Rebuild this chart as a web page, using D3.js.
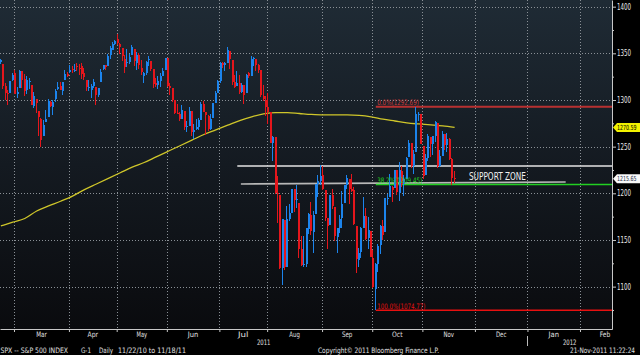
<!DOCTYPE html>
<html><head><meta charset="utf-8">
<script src="https://cdn.jsdelivr.net/npm/d3@7"></script>
<style>
html,body{margin:0;padding:0;background:#000;}
svg{display:block;}
text{font-family:"Liberation Sans Narrow","DejaVu Sans Condensed","Liberation Sans",Arial,sans-serif;}
</style></head><body>
<svg id="chart" width="640" height="355"></svg>
<script>
// ---------- DATA ----------
const firstDate = "2011-02-18";
const lastDate = "2011-11-18";
const marketHolidays = ["2011-02-21","2011-04-22","2011-05-30","2011-07-04","2011-09-05"];

const open = [
 1340.4,1338.9,1315.4,1307.1,1307.3,1321.6,
 1328.6,1305.9,1312.4,1330.7,1322.7,1311.0,1319.9,1315.7,1293.4,1301.2,1288.5,1279.5,1261.6,1276.7,1281.7,1298.3,1292.2,1300.6,1311.8,1315.5,1309.4,1321.9,1327.4,
 1329.5,1333.6,1332.0,1335.9,1334.8,1336.2,1329.0,1321.9,1314.0,1311.1,1314.5,1313.4,1305.7,1319.1,1333.2,1337.1,1336.8,1348.4,1353.9,1360.1,
 1365.2,1359.8,1355.9,1344.2,1340.2,1340.2,1348.3,1354.5,1339.4,1348.7,1334.8,1326.1,1328.5,1342.4,1342.0,1333.1,1317.7,1316.4,1320.6,1325.7,1331.7,
 1345.2,1314.6,1312.9,1300.3,1286.3,1284.6,1279.6,1288.3,1271.3,1272.2,1287.9,1265.5,1268.6,1271.5,1278.4,1295.5,1286.6,1283.0,1268.4,1280.2,1296.8,1307.6,
 1320.6,1339.6,1337.6,1339.6,1352.4,1343.3,1319.6,1314.5,1317.7,1308.9,1315.9,1307.1,1328.7,1325.7,1343.8,1344.3,1337.4,1331.9,1304.8,1300.1,
 1292.6,1286.6,1254.3,1260.2,1200.3,1198.5,1120.2,1171.8,1121.3,1172.9,1178.9,1204.2,1192.9,1189.6,1140.5,1123.6,1124.4,1162.2,1176.7,1158.9,1177.9,1209.8,1213.0,
 1219.1,1203.9,1174.0,1165.9,1198.0,1185.4,1153.5,1162.6,1173.3,1189.4,1209.2,1215.0,1204.5,1203.6,1164.6,1128.8,1136.9,1163.3,1175.4,1151.7,1159.9,
 1131.2,1097.4,1124.0,1144.1,1165.0,1158.2,1194.6,1196.2,1207.0,1205.7,1224.5,1200.8,1223.5,1209.9,1215.4,1238.7,1254.2,1229.2,1244.0,1284.4,1285.0,
 1251.0,1219.6,1238.3,1260.8,1253.2,1261.1,1275.2,1229.6,1240.1,1263.9,1251.7,1257.8,1236.6,1216.2
];
const high = [
 1344.1,1338.9,1317.9,1310.9,1320.6,1329.4,
 1332.1,1314.2,1332.3,1331.1,1327.7,1325.7,1323.2,1315.7,1308.4,1301.2,1288.5,1280.9,1278.9,1288.9,1300.6,1299.4,1300.5,1311.3,1319.2,1319.7,1319.5,1331.7,1329.8,
 1337.9,1336.7,1338.2,1339.4,1338.8,1339.5,1333.8,1321.9,1321.4,1316.8,1322.9,1313.4,1313.0,1332.7,1337.5,1337.6,1349.6,1357.5,1361.7,1364.6,
 1370.6,1360.8,1355.9,1348.0,1354.4,1349.4,1359.4,1354.5,1351.1,1350.5,1343.3,1330.4,1341.8,1346.8,1342.0,1333.1,1323.7,1325.9,1328.5,1334.6,1345.2,
 1345.2,1318.0,1312.9,1300.3,1296.2,1287.0,1294.5,1288.3,1277.0,1292.5,1287.9,1274.1,1279.8,1280.4,1297.6,1298.6,1286.6,1283.9,1284.9,1296.8,1309.2,1321.9,
 1341.0,1340.9,1340.9,1356.5,1352.4,1343.3,1327.2,1331.5,1326.9,1317.7,1315.9,1328.1,1330.4,1347.0,1346.1,1344.3,1338.5,1331.9,1316.3,1304.2,
 1307.4,1286.6,1261.2,1260.2,1218.1,1198.5,1172.9,1171.8,1186.3,1189.0,1204.5,1204.2,1208.5,1189.6,1154.5,1154.0,1162.4,1178.6,1190.7,1181.2,1210.3,1220.1,1230.7,
 1229.3,1203.9,1174.0,1198.6,1204.4,1185.4,1162.5,1176.4,1202.4,1209.1,1220.1,1215.0,1220.4,1206.3,1164.6,1141.7,1164.2,1195.9,1184.7,1175.1,1159.9,
 1139.0,1125.1,1146.1,1165.6,1171.4,1194.9,1199.2,1220.3,1207.5,1224.6,1224.5,1233.1,1229.6,1219.4,1239.0,1256.6,1254.2,1246.3,1292.7,1287.1,1285.0,
 1251.0,1242.5,1263.2,1260.8,1261.7,1277.6,1275.2,1246.2,1267.0,1263.9,1264.3,1259.6,1237.7,1223.5
];
const low = [
 1338.1,1312.3,1299.6,1294.3,1307.3,1320.6,
 1306.1,1302.6,1312.4,1312.6,1303.9,1306.9,1312.3,1294.2,1291.0,1286.4,1261.1,1249.1,1261.6,1276.2,1281.7,1292.7,1284.1,1297.7,1310.2,1310.2,1305.3,1321.9,1325.0,
 1328.5,1329.1,1330.0,1331.1,1326.6,1322.9,1321.1,1309.5,1309.2,1302.4,1313.1,1294.7,1303.0,1319.1,1332.0,1331.7,1336.8,1344.3,1353.6,1358.7,
 1358.6,1349.5,1341.5,1329.2,1335.6,1338.6,1348.3,1336.4,1332.0,1333.4,1327.3,1318.5,1326.6,1336.4,1330.7,1312.9,1313.9,1311.8,1314.4,1325.7,1331.7,
 1313.7,1305.6,1297.9,1284.9,1284.7,1277.4,1279.6,1268.3,1265.6,1272.2,1261.9,1258.1,1267.4,1267.6,1278.4,1286.8,1262.9,1267.2,1267.5,1280.2,1296.8,1307.6,
 1318.2,1334.3,1330.9,1339.6,1333.7,1316.4,1313.3,1314.5,1306.5,1307.5,1295.9,1307.1,1323.7,1325.7,1336.0,1331.1,1329.1,1303.5,1299.2,1282.9,
 1274.7,1254.0,1234.6,1199.5,1168.1,1119.3,1101.5,1118.0,1121.3,1170.7,1178.9,1180.5,1184.4,1131.0,1122.1,1121.1,1120.7,1156.3,1155.1,1135.9,1177.9,1195.8,1209.4,
 1203.9,1170.6,1140.1,1165.9,1183.3,1148.4,1136.1,1157.4,1162.7,1189.4,1204.5,1188.4,1201.3,1166.4,1114.2,1121.4,1131.1,1163.3,1150.4,1139.9,1131.3,
 1098.9,1074.8,1115.7,1134.9,1150.3,1158.2,1187.3,1196.2,1190.6,1205.7,1198.6,1191.5,1206.3,1197.3,1215.4,1238.7,1226.8,1221.1,1244.0,1277.0,1253.2,
 1215.4,1219.6,1234.8,1238.9,1240.8,1255.0,1226.6,1227.7,1240.1,1246.7,1244.3,1235.7,1209.4,1211.4
];
const close = [
 1343.0,1315.4,1307.4,1306.1,1319.9,1327.2,
 1306.3,1308.4,1331.0,1321.2,1310.1,1321.8,1320.0,1295.1,1304.3,1296.4,1281.9,1256.9,1273.7,1279.2,1298.4,1293.8,1297.5,1309.7,1313.8,1310.2,1319.4,1328.3,1325.8,
 1332.4,1332.9,1332.6,1335.5,1333.5,1328.2,1324.5,1314.2,1314.4,1314.5,1319.7,1305.1,1312.6,1330.4,1337.4,1335.3,1347.2,1355.7,1360.5,1363.6,
 1361.2,1356.6,1347.3,1335.1,1340.2,1346.3,1357.2,1342.1,1348.7,1337.8,1329.5,1329.0,1340.7,1343.6,1333.3,1317.4,1316.3,1320.5,1325.7,1331.1,1345.2,
 1314.6,1312.9,1300.2,1286.2,1284.9,1279.6,1289.0,1271.0,1271.8,1287.9,1265.4,1267.6,1271.5,1278.4,1295.5,1287.1,1283.5,1268.5,1280.1,1296.7,1307.4,1320.6,
 1339.7,1337.9,1339.2,1353.2,1343.8,1319.5,1313.6,1317.7,1308.9,1316.1,1305.4,1326.7,1325.8,1343.8,1345.0,1337.4,1331.9,1304.9,1300.7,1292.3,
 1286.9,1254.1,1260.3,1200.1,1199.4,1119.5,1172.5,1120.8,1172.6,1178.8,1204.5,1192.8,1193.9,1140.7,1123.5,1123.8,1162.4,1177.6,1159.3,1176.8,1210.1,1212.9,1218.9,
 1204.4,1174.0,1165.2,1198.6,1185.9,1154.2,1162.3,1172.9,1188.7,1209.1,1216.0,1204.1,1202.1,1166.8,1129.6,1136.4,1163.0,1175.4,1151.1,1160.4,1131.4,
 1099.2,1124.0,1144.0,1165.0,1155.5,1194.9,1195.5,1207.3,1203.7,1224.6,1200.9,1225.4,1209.9,1215.4,1238.3,1254.2,1229.1,1242.0,1284.6,1285.1,1253.3,
 1218.3,1237.9,1261.2,1253.2,1261.1,1275.9,1229.1,1239.7,1263.9,1251.8,1257.8,1236.9,1216.1,1215.65
];
// 200-day moving average, read every 5 trading days
const maIndex = [0,5,10,15,20,25,30,35,40,45,50,55,60,65,70,75,80,85,90,95,100,105,110,115,120,125,130,135,140,145,150,155,160,165,170,175,180,185,190];
const ma200 = [1165,1169,1173,1181,1186.5,1191.5,1197,1204,1210,1216,1222,1228,1233,1239,1245,1251,1257,1263,1268,1273,1278,1282,1285,1286.5,1286.5,1285.5,1284.5,1284,1284,1284,1283.5,1282,1279.5,1277.5,1275.5,1274.3,1273.3,1272.2,1270.59];

const yTicks = [1100,1150,1200,1250,1300,1350,1400];
const yMinorTicks = [1075,1125,1175,1225,1275,1325,1375];
const monthNames = ["Jan","Feb","Mar","Apr","May","Jun","Jul","Aug","Sep","Oct","Nov","Dec"];

const fibLabels = ["0.0%(1292.69)","38.2%(1209.45)","100.0%(1074.77)"];
const fibValues = [1292.69,1209.45,1074.77];
const fibColors = ["#b83030","#22d022","#e81010"];
const fibStartIdx = 157;

const supportUpper = {from:99, to:256, values:[1229.3,1229.3]};
const supportLower = {from:100.5, to:236.5, values:[1210.0,1212.1]};
const supportLabel = "SUPPORT ZONE";

const lastMA = 1270.59, lastClose = 1215.65;
const footerLeft = ["SPX -- S&P 500 INDEX","G-1","Daily","11/22/10 to 11/18/11"];
const footerMid = "Copyright\u00A9 2011 Bloomberg Finance L.P.";
const footerRight = "21-Nov-2011 11:22:24";

// ---------- LAYOUT ----------
const W = 612, H = 329;
const svg = d3.select("#chart");
const fmt = d3.timeFormat("%Y-%m-%d");

// trading calendar (historical trading days, then projected weekdays)
const cal = [];
for (let d = new Date(2011,1,18); d <= new Date(2012,2,31); d = d3.timeDay.offset(d,1)) {
  const wd = d.getDay();
  if (wd === 0 || wd === 6) continue;
  if (marketHolidays.includes(fmt(d))) continue;
  cal.push(d);
}
const monthStarts = [];
cal.forEach((d,i) => {
  if (i === 0 || d.getMonth() !== cal[i-1].getMonth()) monthStarts.push({idx:i, date:d});
});

const x = d3.scaleLinear().domain([-0.36, 255.9]).range([0, W]);
const y = d3.scaleLinear().domain([1054.6, 1407.14]).range([H, 0]);

const defs = svg.append("defs");
const grad = defs.append("linearGradient").attr("id","bg").attr("x1",0).attr("y1",0).attr("x2",0).attr("y2",1);
grad.append("stop").attr("offset","0%").attr("stop-color","#1f2b35");
grad.append("stop").attr("offset","50%").attr("stop-color","#141a21");
grad.append("stop").attr("offset","100%").attr("stop-color","#0a0b0e");
defs.append("clipPath").attr("id","plotclip").append("rect").attr("width",W).attr("height",H);

svg.append("rect").attr("width",640).attr("height",355).attr("fill","#000");
svg.append("rect").attr("width",W).attr("height",H).attr("fill","url(#bg)");

// grid
const grid = svg.append("g").attr("stroke","#8a9096").attr("stroke-dasharray","1,2").attr("stroke-width",1);
grid.selectAll("line.h").data(yTicks).join("line")
  .attr("x1",0).attr("x2",W).attr("y1",d=>Math.round(y(d))+0.5).attr("y2",d=>Math.round(y(d))+0.5);
const gridMonths = monthStarts.filter(m => m.idx > 0 && x(m.idx-0.5) < W);
grid.selectAll("line.v").data(gridMonths).join("line")
  .attr("y1",0).attr("y2",H).attr("x1",m=>Math.round(x(m.idx-0.5))+0.5).attr("x2",m=>Math.round(x(m.idx-0.5))+0.5);

const plot = svg.append("g").attr("clip-path","url(#plotclip)");

// 200 DMA
plot.append("path")
  .datum(maIndex.map((k,i)=>[k, ma200[i]]))
  .attr("fill","none").attr("stroke","#cfc62a").attr("stroke-width",1.3)
  .attr("d", d3.line().x(d=>x(d[0])).y(d=>y(d[1])).curve(d3.curveMonotoneX));

// support zone lines
plot.append("line").attr("x1",x(supportUpper.from)).attr("x2",x(supportUpper.to))
  .attr("y1",y(supportUpper.values[0])).attr("y2",y(supportUpper.values[1]))
  .attr("stroke","#e4e4e4").attr("stroke-width",1.6);
plot.append("line").attr("x1",x(supportLower.from)).attr("x2",x(supportLower.to))
  .attr("y1",y(supportLower.values[0])).attr("y2",y(supportLower.values[1]))
  .attr("stroke","#b8b8b8").attr("stroke-width",1.6);

// fib lines
fibValues.forEach((v,i) => {
  plot.append("line").attr("x1",x(fibStartIdx)).attr("x2",W)
    .attr("y1",y(v)).attr("y2",y(v))
    .attr("stroke",fibColors[i]).attr("stroke-width", i===0 ? 2 : 1.6);
});

// candles
const n = close.length;
const idx = d3.range(n);
const col = i => close[i] >= open[i] ? "#1c84ec" : "#e5161c";
const cg = plot.append("g").attr("shape-rendering","crispEdges");
cg.selectAll("rect.w").data(idx).join("rect")
  .attr("x", i => Math.round(x(i)) - 1).attr("width",1)
  .attr("y", i => y(high[i])).attr("height", i => Math.max(1, y(low[i]) - y(high[i])))
  .attr("fill", col);
cg.selectAll("rect.b").data(idx).join("rect")
  .attr("x", i => Math.round(x(i)) - 1).attr("width",2)
  .attr("y", i => y(Math.max(open[i],close[i])))
  .attr("height", i => Math.max(1, Math.abs(y(open[i]) - y(close[i]))))
  .attr("fill", col);

// fib labels
fibValues.forEach((v,i) => {
  const t = fibLabels[i];
  svg.append("text").attr("x", x(fibStartIdx)+1.5).attr("y", y(v)-1.5)
    .attr("font-size",7.5).attr("fill", i===0 ? "#d03a3a" : fibColors[i])
    .attr("textLength", t.length*3.2).attr("lengthAdjust","spacingAndGlyphs").text(t);
});

// support label
svg.append("text").attr("x", x(196)).attr("y", y(supportLower.values[1]) - 2)
  .attr("font-size",10).attr("fill","#f0f0f0")
  .attr("textLength",57).attr("lengthAdjust","spacingAndGlyphs").text(supportLabel);

// axes
const yAxis = svg.append("g").attr("transform",`translate(${W},0)`)
  .call(d3.axisRight(y).tickValues(yTicks).tickSize(4).tickSizeOuter(0).tickPadding(1).tickFormat(d3.format("d")));
yAxis.select(".domain").attr("stroke","#c8c8c8");
yAxis.selectAll(".tick line").attr("stroke","#c8c8c8");
yAxis.selectAll(".tick text").attr("fill","#e8e8e8").attr("font-size",8)
  .attr("textLength",14).attr("lengthAdjust","spacingAndGlyphs").attr("font-family",null);
const yMinor = svg.append("g").attr("transform",`translate(${W},0)`)
  .call(d3.axisRight(y).tickValues(yMinorTicks).tickSize(2).tickSizeOuter(0).tickFormat(""));
yMinor.select(".domain").remove();
yMinor.selectAll(".tick line").attr("stroke","#c8c8c8");

const xAxis = svg.append("g").attr("transform",`translate(0,${H})`)
  .call(d3.axisBottom(x).tickValues(gridMonths.map(m=>m.idx-0.5)).tickSize(3).tickSizeOuter(0).tickFormat(""));
xAxis.select(".domain").attr("stroke","#c8c8c8");
xAxis.selectAll(".tick line").attr("stroke","#c8c8c8");

// month labels
const labelMonths = monthStarts.filter((m,i) => i>0 && i < monthStarts.length-1 && x(m.idx-0.5) < W);
svg.append("g").selectAll("text").data(labelMonths).join("text")
  .attr("x", m => { const k = monthStarts.indexOf(m); const nxt = monthStarts[k+1].idx; return x(m.idx - 0.5 + (nxt - m.idx)/2); })
  .attr("y", 336.8).attr("text-anchor","middle").attr("font-size",7.5).attr("fill","#e0e0e0")
  .attr("textLength", m => monthNames[m.date.getMonth()].length*3.5).attr("lengthAdjust","spacingAndGlyphs")
  .text(m => monthNames[m.date.getMonth()]);

// year labels
const jan = monthStarts.find(m => m.date.getFullYear() === 2012);
const yb = x(jan.idx - 0.5);
svg.append("line").attr("x1",Math.round(yb)+0.5).attr("x2",Math.round(yb)+0.5).attr("y1",336).attr("y2",346).attr("stroke","#bbbbbb");
[["2011",(0+yb)/2],["2012",(yb+W)/2]].forEach(([t,cx]) => {
  svg.append("text").attr("x",cx).attr("y",345).attr("text-anchor","middle").attr("font-size",7.5)
    .attr("fill","#e0e0e0").attr("textLength",13.5).attr("lengthAdjust","spacingAndGlyphs").text(t);
});

// right tags
function tag(v, bg, fg, label) {
  const c = y(v);
  svg.append("path").attr("d",`M${W+1},${c} L${W+5},${c-4.5} L640,${c-4.5} L640,${c+4.5} L${W+5},${c+4.5} Z`).attr("fill",bg);
  svg.append("text").attr("x",W+5).attr("y",c+2.6).attr("font-size",7).attr("fill",fg)
    .attr("textLength",19.5).attr("lengthAdjust","spacingAndGlyphs").text(label);
}
tag(lastMA, "#f2f200", "#000", d3.format(".2f")(lastMA));
tag(lastClose, "#f8f8f8", "#1a2a44", d3.format(".2f")(lastClose));

// footer
const fx = [[0.5,67.5],[81,10],[99,14],[118,68]];
footerLeft.forEach((t,i) => {
  svg.append("text").attr("x",fx[i][0]).attr("y",352.5).attr("font-size",7.5).attr("fill","#e0e0e0")
    .attr("textLength",fx[i][1]).attr("lengthAdjust","spacingAndGlyphs").text(t);
});
svg.append("text").attr("x",318).attr("y",352.5).attr("font-size",7.5).attr("fill","#e0e0e0")
  .attr("textLength",121).attr("lengthAdjust","spacingAndGlyphs").text(footerMid);
svg.append("text").attr("x",570).attr("y",352.5).attr("font-size",7.5).attr("fill","#e0e0e0")
  .attr("textLength",65).attr("lengthAdjust","spacingAndGlyphs").text(footerRight);
</script>
</body></html>
